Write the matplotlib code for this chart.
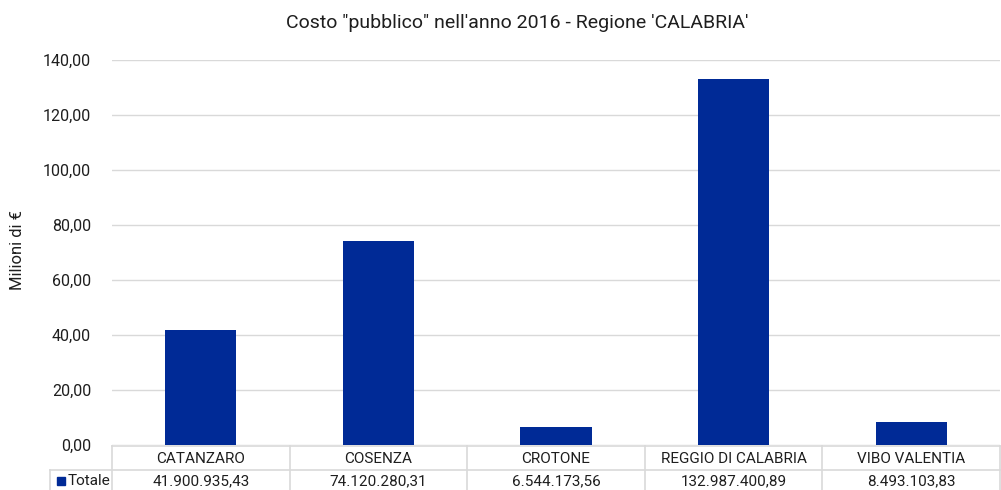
import matplotlib
matplotlib.use('Agg')
import matplotlib.pyplot as plt
from matplotlib.lines import Line2D
from matplotlib.patches import Rectangle

# dati (euro)
province = ['CATANZARO', 'COSENZA', 'CROTONE', 'REGGIO DI CALABRIA', 'VIBO VALENTIA']
totale = [41900935.43, 74120280.31, 6544173.56, 132987400.89, 8493103.83]
yticks = [0, 20, 40, 60, 80, 100, 120, 140]

plt.rcParams['font.family'] = ['Liberation Sans Narrow', 'Roboto', 'DejaVu Sans']
txt = '#1e1e1e'
bar_col = '#002a96'
line_col = '#d9d9d9'


def fmt_it(v, dec=2):
    s = f'{v:,.{dec}f}'
    return s.replace(',', 'X').replace('.', ',').replace('X', '.')


W, H = 1001, 490
fig = plt.figure(figsize=(W / 100, H / 100), dpi=100)
x0, x1, ytop, ybot = 112, 1000, 60, 445
ax = fig.add_axes([x0 / W, (H - ybot) / H, (x1 - x0) / W, (ybot - ytop) / H])

milioni = [v / 1e6 for v in totale]
pos = list(range(len(province)))
ax.bar(pos, milioni, width=0.4, color=bar_col, zorder=3)
ax.set_xlim(-0.5, len(province) - 0.5)
ax.set_ylim(0, 140)
ax.set_yticks(yticks)
ax.set_yticklabels([fmt_it(v) for v in yticks], fontsize=11.5, color=txt)
ax.set_xticks([])
ax.tick_params(axis='y', length=0, pad=15)
ax.grid(axis='y', color=line_col, linewidth=1, zorder=0)
for s in ax.spines.values():
    s.set_visible(False)


def fx(px):
    return px / W


def fy(py):
    return 1 - py / H


fig.text(fx(18), fy(250), 'Milioni di €', rotation=90, ha='center', va='center',
         fontsize=12, color=txt)
fig.text(0.5 + 17 / W, fy(23), 'Costo "pubblico" nell\'anno 2016 - Regione \'CALABRIA\'',
         ha='center', va='center', fontsize=14, color=txt)

# tabella dati sotto il grafico
row1, row2, row3 = 446, 470, 490
colw = (x1 - x0) / len(province)
lines = [
    ((x0, x1), (row1, row1)),
    ((50, x1), (row2, row2)),
    ((50, 50), (row2, row3)),
]
for i in range(len(province) + 1):
    xx = x0 + i * colw
    lines.append(((xx, xx), (row1, row3)))
for (xs, ys) in lines:
    fig.add_artist(Line2D([fx(v) for v in xs], [fy(v) for v in ys],
                          color=line_col, linewidth=1.2))

for i, (p, v) in enumerate(zip(province, totale)):
    cx = x0 + (i + 0.5) * colw
    fig.text(fx(cx), fy((row1 + row2) / 2 + 1), p, ha='center', va='center',
             fontsize=11, color=txt)
    fig.text(fx(cx), fy((row2 + row3) / 2 + 1), fmt_it(v), ha='center', va='center',
             fontsize=11, color=txt)

fig.add_artist(Rectangle((fx(57), fy(485)), 8 / W, 8 / H, color=bar_col,
                         transform=fig.transFigure))
fig.text(fx(68), fy((row2 + row3) / 2 + 1), 'Totale', ha='left', va='center',
         fontsize=11, color=txt)

fig.savefig('out.png', dpi=100)
